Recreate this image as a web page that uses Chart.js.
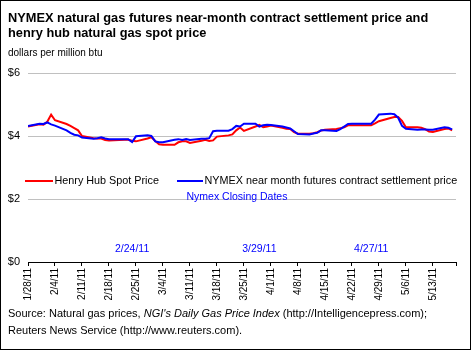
<!DOCTYPE html>
<html>
<head>
<meta charset="utf-8">
<script src="https://cdn.jsdelivr.net/npm/chart.js@4/dist/chart.umd.min.js"></script>
<style>
  html, body { margin: 0; padding: 0; background: #fff; }
  #wrap { position: relative; width: 471px; height: 350px; overflow: hidden; background: #fff;
          font-family: 'Liberation Sans', Arial, sans-serif; color: #000; }
  #c { position: absolute; left: 0; top: 0; }
  .t { position: absolute; left: 8px; white-space: nowrap; }
  #title { top: 9.5px; font-size: 12.8px; line-height: 15px; font-weight: bold; }
  #sub { top: 47px; font-size: 10px; line-height: 12px; }
  #foot { top: 305px; font-size: 11px; line-height: 17px; }
  #frame { position: absolute; left: 0; top: 0; width: 471px; height: 350px; box-sizing: border-box;
           border: 1px solid #000; pointer-events: none; }
</style>
</head>
<body>
<div id="wrap">
  <canvas id="c" width="471" height="350"></canvas>
  <div class="t" id="title">NYMEX natural gas futures near-month contract settlement price and<br>henry hub natural gas spot price</div>
  <div class="t" id="sub">dollars per million btu</div>
  <div class="t" id="foot">Source: Natural gas prices, <i>NGI's Daily Gas Price Index</i> (http://Intelligencepress.com);<br>Reuters News Service (http://www.reuters.com).</div>
  <div id="frame"></div>
</div>
<script>
// ---- data ----
const dates = ["1/28/11","1/31/11","2/1/11","2/2/11","2/3/11","2/4/11","2/7/11","2/8/11","2/9/11","2/10/11","2/11/11",
  "2/14/11","2/15/11","2/16/11","2/17/11","2/18/11","2/22/11","2/23/11","2/24/11","2/25/11",
  "2/28/11","3/1/11","3/2/11","3/3/11","3/4/11","3/7/11","3/8/11","3/9/11","3/10/11","3/11/11",
  "3/14/11","3/15/11","3/16/11","3/17/11","3/18/11","3/21/11","3/22/11","3/23/11","3/24/11","3/25/11",
  "3/28/11","3/29/11","3/30/11","3/31/11","4/1/11","4/4/11","4/5/11","4/6/11","4/7/11","4/8/11",
  "4/11/11","4/12/11","4/13/11","4/14/11","4/15/11","4/18/11","4/19/11","4/20/11","4/21/11","4/22/11",
  "4/25/11","4/26/11","4/27/11","4/28/11","4/29/11","5/2/11","5/3/11","5/4/11","5/5/11","5/6/11",
  "5/9/11","5/10/11","5/11/11","5/12/11","5/13/11","5/16/11","5/17/11","5/18/11"];
const henryHub = [4.30,4.37,4.36,4.45,4.68,4.50,4.38,4.32,4.25,4.18,4.00,
  3.93,3.92,3.92,3.87,3.86,3.88,3.88,3.85,3.83,
  3.92,3.96,3.84,3.74,3.72,3.72,3.80,3.83,3.83,3.78,
  3.85,3.88,3.84,3.86,3.98,4.02,4.05,4.18,4.27,4.16,
  4.30,4.35,4.28,4.30,4.33,4.26,4.23,4.22,4.12,4.07,
  4.07,4.09,4.12,4.17,4.20,4.22,4.25,4.28,4.34,4.34,
  4.34,4.34,4.34,4.40,4.47,4.57,4.60,4.60,4.48,4.28,
  4.28,4.26,4.22,4.14,4.13,4.22,4.24,4.18];
const nymex = [4.32,4.39,4.38,4.43,4.37,4.33,4.18,4.10,4.04,4.02,3.95,
  3.91,3.93,3.96,3.92,3.90,3.90,3.90,3.81,3.99,
  4.02,4.00,3.83,3.80,3.80,3.88,3.90,3.87,3.90,3.87,
  3.91,3.91,3.93,4.15,4.17,4.17,4.22,4.32,4.30,4.39,
  4.39,4.30,4.34,4.36,4.35,4.30,4.27,4.24,4.15,4.06,
  4.05,4.08,4.10,4.18,4.18,4.16,4.22,4.30,4.38,4.39,
  4.39,4.39,4.39,4.52,4.68,4.71,4.69,4.58,4.32,4.23,
  4.20,4.21,4.21,4.20,4.20,4.28,4.26,4.21];
const tickLabels = ["1/28/11","2/4/11","2/11/11","2/18/11","2/25/11","3/4/11","3/11/11","3/18/11",
  "3/25/11","4/1/11","4/8/11","4/15/11","4/22/11","4/29/11","5/6/11","5/13/11"];
const axisEnd = "5/19/11";
const closingDates = ["2/24/11","3/29/11","4/27/11"];
const yTicks = [0, 2, 4, 6];
const seriesNames = ["Henry Hub Spot Price", "NYMEX near month futures contract settlement price"];

// ---- helpers ----
function dayOf(s) {
  const [m, d, y] = s.split('/').map(Number);
  return (Date.UTC(2000 + y, m - 1, d) - Date.UTC(2011, 0, 28)) / 86400000;
}
const tickValues = tickLabels.map(dayOf).concat([dayOf(axisEnd)]);
const FONT = "'Liberation Sans', Arial, sans-serif";
Chart.defaults.font.family = FONT;
Chart.defaults.color = '#000';

const overlay = {
  id: 'overlay',
  afterDatasetsDraw(chart) {
    const ctx = chart.ctx, xs = chart.scales.x, ys = chart.scales.y;
    ctx.save();
    // legend
    ctx.font = '10.8px ' + FONT;
    ctx.textBaseline = 'middle';
    ctx.textAlign = 'left';
    const legY = 181;
    const items = [{x0: 25, x1: 53, col: '#ff0000', name: seriesNames[0]},
                   {x0: 177, x1: 203, col: '#0000ff', name: seriesNames[1]}];
    items.forEach(it => {
      ctx.strokeStyle = it.col; ctx.lineWidth = 2;
      ctx.beginPath(); ctx.moveTo(it.x0, legY); ctx.lineTo(it.x1, legY); ctx.stroke();
      ctx.fillStyle = '#000';
      ctx.fillText(it.name, it.x1 + 1.5, legY);
    });
    // closing dates annotation
    ctx.fillStyle = '#0000ff';
    ctx.textAlign = 'center';
    ctx.font = '10.5px ' + FONT;
    ctx.fillText('Nymex Closing Dates', xs.getPixelForValue(54.2), ys.getPixelForValue(2.07));
    closingDates.forEach(d => {
      ctx.fillText(d, xs.getPixelForValue(dayOf(d)), ys.getPixelForValue(0.42));
    });
    ctx.restore();
  }
};

new Chart(document.getElementById('c'), {
  type: 'line',
  data: {
    datasets: [
      { label: seriesNames[0], data: dates.map((d, i) => ({x: dayOf(d), y: henryHub[i]})),
        borderColor: '#ff0000', borderWidth: 2, pointRadius: 0, tension: 0, fill: false, order: 1 },
      { label: seriesNames[1], data: dates.map((d, i) => ({x: dayOf(d), y: nymex[i]})),
        borderColor: '#0000ff', borderWidth: 2, pointRadius: 0, tension: 0, fill: false, order: 0 }
    ]
  },
  options: {
    responsive: false,
    animation: false,
    events: [],
    layout: { padding: { top: 73, right: 15, left: 0, bottom: 0 } },
    plugins: { legend: { display: false }, tooltip: { enabled: false }, title: { display: false } },
    scales: {
      x: {
        type: 'linear', min: 0, max: dayOf(axisEnd),
        afterBuildTicks(scale) { scale.ticks = tickValues.map(v => ({value: v})); },
        afterFit(scale) { scale.height = 88; },
        border: { display: true, color: '#000', width: 1 },
        grid: { drawOnChartArea: false, drawTicks: true, tickLength: 4, color: '#000', lineWidth: 1 },
        ticks: {
          autoSkip: false, maxRotation: 90, minRotation: 90, padding: 2,
          font: { size: 10 }, color: '#000',
          callback(value, index) { return index < tickLabels.length ? tickLabels[index] : ''; }
        }
      },
      y: {
        min: 0, max: 6,
        afterBuildTicks(scale) { scale.ticks = yTicks.map(v => ({value: v})); },
        afterFit(scale) { scale.width = 28; },
        border: { display: false },
        grid: { drawTicks: false, color: '#c0c0c0', lineWidth: 1 },
        ticks: { padding: 8, font: { size: 11 }, color: '#000', callback: v => '$' + v }
      }
    }
  },
  plugins: [overlay]
});
</script>
</body>
</html>
